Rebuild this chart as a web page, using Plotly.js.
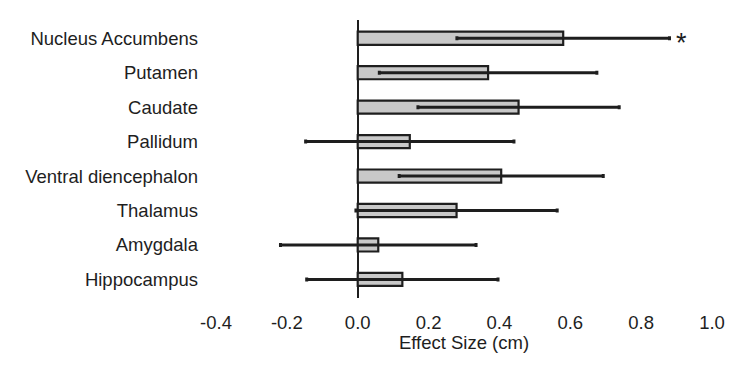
<!DOCTYPE html>
<html>
<head>
<meta charset="utf-8">
<script src="https://cdn.plot.ly/plotly-3.0.1.min.js"></script>
<style>html,body{margin:0;padding:0;background:#fff}#chart{width:736px;height:367px}</style>
</head>
<body>
<div id="chart"></div>
<script>
const regions = ["Nucleus Accumbens","Putamen","Caudate","Pallidum","Ventral diencephalon","Thalamus","Amygdala","Hippocampus"];
const effectSize = [0.58, 0.368, 0.454, 0.147, 0.405, 0.279, 0.058, 0.126];
const errorHalf = [0.30, 0.307, 0.284, 0.294, 0.288, 0.284, 0.276, 0.27];
const tickVals = [-0.4,-0.2,0,0.2,0.4,0.6,0.8,1.0];
const tickText = ["-0.4","-0.2","0.0","0.2","0.4","0.6","0.8","1.0"];
const significant = ["Nucleus Accumbens"];

const font = "Liberation Sans, Arial, sans-serif";
const ink = "#1e1e1e";

const trace = {
  type: "bar",
  orientation: "h",
  y: regions,
  x: effectSize,
  width: 0.38,
  marker: {color: "#c8c8c8", line: {color: ink, width: 2.2}},
  error_x: {type: "data", array: errorHalf, visible: true, color: ink, thickness: 3, width: 2},
  hoverinfo: "none"
};

const annotations = significant.map(r => {
  const i = regions.indexOf(r);
  return {x: effectSize[i] + errorHalf[i] + 0.035, y: r, xref: "x", yref: "y", text: "*", showarrow: false,
    font: {family: font, size: 27, color: ink}, yshift: -5};
});

const layout = {
  width: 736, height: 367,
  margin: {l: 216, r: 24, t: 20, b: 69, pad: 0},
  paper_bgcolor: "#fff", plot_bgcolor: "#fff",
  showlegend: false,
  xaxis: {
    range: [-0.4, 1.0], tickvals: tickVals, ticktext: tickText,
    showgrid: false, showline: false, zeroline: true, zerolinecolor: ink, zerolinewidth: 2,
    ticks: "", ticklabelstandoff: 11,
    tickfont: {family: font, size: 18.5, color: ink},
    title: {text: "Effect Size (cm)", font: {family: font, size: 18.5, color: ink}, standoff: 4}
  },
  yaxis: {
    categoryorder: "array", categoryarray: regions, autorange: false, range: [7.54, -0.53],
    showgrid: false, showline: false, zeroline: false, ticks: "", ticklabelstandoff: 17,
    tickfont: {family: font, size: 18.5, color: ink}
  },
  annotations: annotations
};

Plotly.newPlot("chart", [trace], layout, {displayModeBar: false, staticPlot: true});
</script>
</body>
</html>
